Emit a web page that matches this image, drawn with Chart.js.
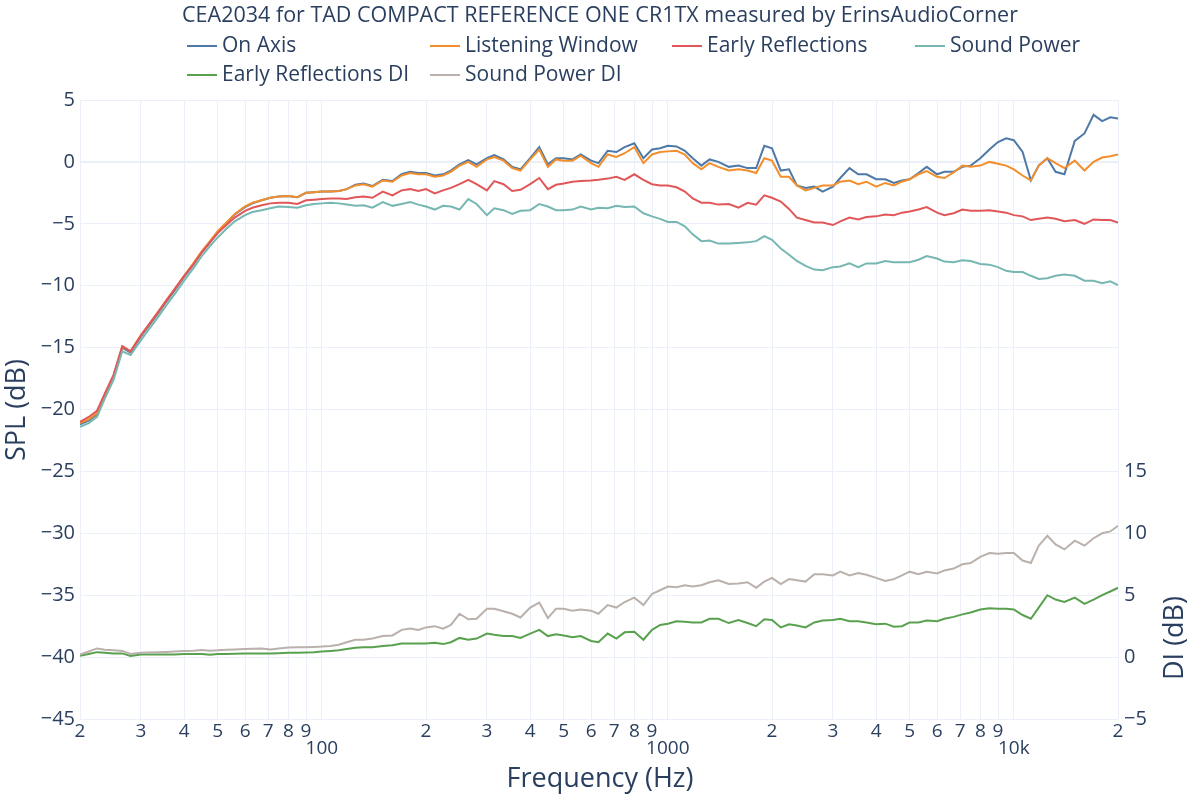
<!DOCTYPE html>
<html lang="en">
<head>
<meta charset="UTF-8">
<title>CEA2034 - TAD Compact Reference One CR1TX</title>
<script src="https://cdn.jsdelivr.net/npm/chart.js"></script>
<style>
    body {
        margin: 0;
        background: #ffffff;
    }
    .chart-box {
        position: relative;
        width: 1200px;
        height: 800px;
    }
</style>
</head>
<body>

<div class="chart-box">
    <canvas id="spinChart" width="1200" height="800"></canvas>
</div>

<script>
    const chartTitle = 'CEA2034 for TAD COMPACT REFERENCE ONE CR1TX measured by ErinsAudioCorner';
    const seriesNames = ['On Axis', 'Listening Window', 'Early Reflections', 'Sound Power', 'Early Reflections DI', 'Sound Power DI'];

    // frequency points (Hz)
    const freqs = [
        20, 21.2, 22.4, 23.6, 25, 26.5, 28, 30, 31.5, 33.5, 35.5, 37.5, 40, 42.5, 45, 47.5, 50, 53, 56, 60, 63, 67, 71, 75, 80, 85, 90, 95,
        100, 106, 112, 118, 125, 132, 140, 150, 160, 170, 180, 190, 200, 212, 224, 236, 250, 265, 280, 300, 315, 335, 355, 375, 400, 425, 450, 475, 500, 530, 560, 600, 630, 670, 710, 750, 800, 850, 900, 950,
        1000, 1060, 1120, 1180, 1250, 1320, 1400, 1500, 1600, 1700, 1800, 1900, 2000, 2120, 2240, 2360, 2500, 2650, 2800, 3000, 3150, 3350, 3550, 3750, 4000, 4250, 4500, 4750, 5000, 5300, 5600, 6000, 6300, 6700, 7100, 7500, 8000, 8500, 9000, 9500,
        10000, 10600, 11200, 11800, 12500, 13200, 14000, 15000, 16000, 17000, 18000, 19000, 20000
    ];

    // SPL curves (dB)
    const onAxis = [
        -21.2, -20.9, -20.4, -18.9, -17.4, -15.0, -15.4, -14.1, -13.3, -12.3, -11.3, -10.4, -9.3, -8.3, -7.3, -6.5, -5.7, -4.95, -4.25, -3.65, -3.35, -3.1, -2.9, -2.8, -2.75, -2.85, -2.5, -2.45,
        -2.4, -2.4, -2.35, -2.2, -1.85, -1.75, -1.95, -1.45, -1.55, -1.0, -0.8, -0.9, -0.9, -1.1, -1.0, -0.7, -0.2, 0.15, -0.2, 0.3, 0.55, 0.2, -0.4, -0.6, 0.3, 1.2, -0.2, 0.3, 0.3, 0.2, 0.6, 0.1, -0.1, 0.9, 0.8, 1.2, 1.5, 0.3, 1.0, 1.1,
        1.3, 1.25, 0.9, 0.3, -0.3, 0.2, 0.0, -0.4, -0.3, -0.5, -0.5, 1.3, 1.1, -0.7, -0.6, -1.9, -2.1, -2.0, -2.4, -2.0, -1.3, -0.5, -1.0, -1.0, -1.4, -1.4, -1.7, -1.5, -1.4, -0.9, -0.4, -1.0, -0.8, -0.8, -0.4, -0.3, 0.3, 1.0, 1.6, 1.9,
        1.75, 0.8, -1.5, -0.3, 0.3, -0.8, -1.0, 1.7, 2.3, 3.8, 3.3, 3.6, 3.5
    ];
    const listeningWindow = [
        -21.1, -20.8, -20.3, -18.8, -17.3, -14.9, -15.3, -14.0, -13.2, -12.2, -11.2, -10.3, -9.2, -8.2, -7.2, -6.4, -5.6, -4.9, -4.2, -3.6, -3.3, -3.1, -2.9, -2.8, -2.75, -2.85, -2.5, -2.45,
        -2.4, -2.4, -2.35, -2.2, -1.9, -1.8, -2.0, -1.5, -1.6, -1.1, -0.9, -1.0, -1.0, -1.2, -1.1, -0.8, -0.3, 0.0, -0.4, 0.2, 0.4, 0.1, -0.5, -0.7, 0.2, 1.0, -0.4, 0.2, 0.1, 0.1, 0.5, -0.1, -0.4, 0.6, 0.4, 0.7, 1.2, -0.1, 0.6, 0.8,
        0.85, 0.9, 0.6, -0.1, -0.6, -0.1, -0.4, -0.7, -0.6, -0.7, -0.9, 0.3, 0.1, -1.2, -1.2, -1.9, -2.3, -2.1, -1.9, -1.9, -1.6, -1.5, -1.8, -1.6, -2.0, -1.7, -1.9, -1.6, -1.4, -1.0, -0.75, -1.2, -1.3, -0.85, -0.3, -0.4, -0.3, 0.0, -0.15, -0.3,
        -0.6, -1.1, -1.5, -0.3, 0.3, -0.1, -0.5, 0.1, -0.7, 0.0, 0.35, 0.45, 0.6
    ];
    const earlyReflections = [
        -21.0, -20.6, -20.1, -18.7, -17.2, -14.9, -15.3, -14.0, -13.2, -12.2, -11.2, -10.3, -9.2, -8.3, -7.3, -6.5, -5.75, -5.1, -4.5, -3.95, -3.7, -3.5, -3.35, -3.3, -3.3, -3.4, -3.1, -3.05,
        -3.0, -2.95, -2.95, -3.0, -2.85, -2.8, -2.9, -2.4, -2.7, -2.3, -2.2, -2.35, -2.2, -2.55, -2.3, -2.1, -1.8, -1.45, -1.8, -2.3, -1.55, -1.8, -2.35, -2.25, -1.8, -1.3, -2.2, -1.85, -1.75, -1.6, -1.55, -1.5, -1.45, -1.35, -1.2, -1.45, -1.0, -1.45, -1.8, -1.9,
        -1.9, -2.05, -2.4, -2.95, -3.3, -3.3, -3.45, -3.4, -3.7, -3.3, -3.45, -2.7, -2.9, -3.2, -3.8, -4.5, -4.7, -4.9, -4.9, -5.1, -4.8, -4.5, -4.65, -4.45, -4.4, -4.25, -4.3, -4.1, -4.0, -3.85, -3.65, -4.1, -4.3, -4.15, -3.85, -3.95, -3.95, -3.9, -4.0, -4.1,
        -4.3, -4.4, -4.7, -4.6, -4.5, -4.6, -4.8, -4.7, -5.0, -4.65, -4.7, -4.7, -4.9
    ];
    const soundPower = [
        -21.4, -21.1, -20.6, -19.1, -17.6, -15.3, -15.6, -14.4, -13.6, -12.6, -11.6, -10.7, -9.6, -8.6, -7.6, -6.8, -6.1, -5.4, -4.8, -4.3, -4.05, -3.9, -3.75, -3.6, -3.65, -3.7, -3.5, -3.4,
        -3.35, -3.3, -3.35, -3.45, -3.55, -3.5, -3.7, -3.25, -3.55, -3.4, -3.25, -3.45, -3.6, -3.85, -3.55, -3.6, -3.85, -3.0, -3.4, -4.3, -3.75, -3.9, -4.2, -3.95, -3.9, -3.4, -3.6, -3.9, -3.9, -3.85, -3.6, -3.85, -3.7, -3.75, -3.55, -3.65, -3.6, -4.15, -4.4, -4.6,
        -4.85, -4.85, -5.2, -5.85, -6.4, -6.35, -6.6, -6.6, -6.55, -6.5, -6.4, -6.0, -6.3, -7.0, -7.5, -8.0, -8.4, -8.7, -8.75, -8.5, -8.45, -8.2, -8.5, -8.2, -8.2, -8.0, -8.1, -8.1, -8.1, -7.9, -7.6, -7.8, -8.05, -8.1, -7.95, -8.0, -8.25, -8.3, -8.5, -8.8,
        -8.9, -8.9, -9.2, -9.45, -9.4, -9.2, -9.1, -9.2, -9.6, -9.6, -9.8, -9.65, -9.95
    ];

    // directivity index curves (dB, right axis)
    const earlyReflectionsDI = [
        0.1, 0.25, 0.4, 0.35, 0.3, 0.3, 0.1, 0.2, 0.2, 0.2, 0.2, 0.22, 0.25, 0.25, 0.25, 0.2, 0.25, 0.25, 0.28, 0.3, 0.3, 0.3, 0.3, 0.32, 0.35, 0.35, 0.38, 0.4,
        0.45, 0.5, 0.55, 0.65, 0.75, 0.8, 0.8, 0.9, 0.95, 1.1, 1.1, 1.1, 1.1, 1.15, 1.05, 1.2, 1.55, 1.4, 1.5, 1.9, 1.8, 1.7, 1.7, 1.55, 1.9, 2.2, 1.7, 1.85, 1.75, 1.6, 1.7, 1.3, 1.2, 1.9, 1.5, 2.0, 2.05, 1.4, 2.2, 2.6,
        2.7, 2.9, 2.85, 2.8, 2.8, 3.1, 3.1, 2.75, 3.0, 2.75, 2.5, 3.05, 3.0, 2.4, 2.65, 2.55, 2.4, 2.8, 2.95, 3.0, 3.1, 2.9, 2.9, 2.8, 2.65, 2.7, 2.45, 2.5, 2.8, 2.8, 2.95, 2.9, 3.1, 3.25, 3.45, 3.6, 3.85, 3.95, 3.9, 3.9,
        3.85, 3.4, 3.1, 4.0, 5.0, 4.65, 4.45, 4.8, 4.3, 4.65, 5.0, 5.3, 5.6
    ];
    const soundPowerDI = [
        0.2, 0.45, 0.7, 0.6, 0.55, 0.5, 0.25, 0.35, 0.38, 0.4, 0.42, 0.45, 0.5, 0.52, 0.58, 0.52, 0.55, 0.6, 0.62, 0.65, 0.68, 0.7, 0.62, 0.7, 0.78, 0.8, 0.8, 0.82,
        0.85, 0.9, 1.0, 1.2, 1.4, 1.4, 1.5, 1.7, 1.75, 2.2, 2.3, 2.2, 2.4, 2.5, 2.3, 2.6, 3.5, 3.05, 3.1, 3.9, 3.9, 3.7, 3.5, 3.2, 4.0, 4.4, 3.15, 3.9, 3.9, 3.75, 3.85, 3.75, 3.5, 4.2, 4.0, 4.45, 4.8, 4.2, 5.1, 5.4,
        5.7, 5.65, 5.8, 5.7, 5.8, 6.05, 6.2, 5.9, 5.95, 6.05, 5.6, 6.1, 6.4, 5.9, 6.3, 6.2, 6.1, 6.7, 6.7, 6.6, 6.9, 6.6, 6.8, 6.65, 6.4, 6.15, 6.3, 6.6, 6.9, 6.7, 6.9, 6.75, 7.0, 7.15, 7.5, 7.6, 8.1, 8.4, 8.35, 8.4,
        8.4, 7.8, 7.6, 9.0, 9.8, 9.1, 8.7, 9.4, 9.0, 9.6, 10.0, 10.15, 10.6
    ];

    // axis ticks
    const freqTicks = [20, 30, 40, 50, 60, 70, 80, 90, 100, 200, 300, 400, 500, 600, 700, 800, 900,
        1000, 2000, 3000, 4000, 5000, 6000, 7000, 8000, 9000, 10000, 20000];
    const decadeLabels = { 100: '100', 1000: '1000', 10000: '10k' };

    const textColor = '#2a3f5f';
    const gridColor = '#ebf0f8';
    const fontFamily = '"Open Sans", verdana, arial, sans-serif';
    const lineColors = ['#4e79a7', '#f28e2b', '#e15759', '#76b7b2', '#59a14f', '#bab0ac'];

    function toPoints(values) {
        return freqs.map((f, i) => ({ x: f, y: values[i] }));
    }

    function makeDataset(index, values, axisId) {
        return {
            label: seriesNames[index],
            data: toPoints(values),
            yAxisID: axisId,
            borderColor: lineColors[index],
            backgroundColor: lineColors[index],
            borderWidth: 2,
            pointRadius: 0,
            tension: 0,
            fill: false,
            order: 6 - index
        };
    }

    // plotly writes negatives with a real minus sign
    function dbLabel(value) {
        return value < 0 ? '\u2212' + Math.abs(value) : String(value);
    }

    // title, legend and axis titles drawn plotly-style
    const spinDecor = {
        id: 'spinDecor',
        afterDraw(chart) {
            const ctx = chart.ctx;
            ctx.save();
            ctx.fillStyle = textColor;
            ctx.textBaseline = 'middle';

            ctx.textAlign = 'center';
            ctx.font = '21.5px ' + fontFamily;
            ctx.fillText(chartTitle, 600, 16);

            const cols = [187, 430, 672, 915];
            const rows = [46, 75];
            ctx.textAlign = 'left';
            ctx.font = '21px ' + fontFamily;
            seriesNames.forEach((name, i) => {
                const x = cols[i % 4];
                const y = rows[Math.floor(i / 4)];
                ctx.strokeStyle = lineColors[i];
                ctx.lineWidth = 2;
                ctx.beginPath();
                ctx.moveTo(x, y);
                ctx.lineTo(x + 30, y);
                ctx.stroke();
                ctx.fillText(name, x + 35, y);
            });

            ctx.textAlign = 'center';
            ctx.font = '27px ' + fontFamily;
            ctx.fillText('Frequency (Hz)', 600, 779);

            ctx.save();
            ctx.translate(17, 410);
            ctx.rotate(-Math.PI / 2);
            ctx.fillText('SPL (dB)', 0, 0);
            ctx.restore();

            ctx.save();
            ctx.translate(1175, 638);
            ctx.rotate(-Math.PI / 2);
            ctx.fillText('DI (dB)', 0, 0);
            ctx.restore();

            ctx.restore();
        }
    };

    const tickFont = { family: fontFamily, size: 20 };

    new Chart(document.getElementById('spinChart').getContext('2d'), {
        type: 'line',
        data: {
            datasets: [
                makeDataset(0, onAxis, 'y'),
                makeDataset(1, listeningWindow, 'y'),
                makeDataset(2, earlyReflections, 'y'),
                makeDataset(3, soundPower, 'y'),
                makeDataset(4, earlyReflectionsDI, 'y2'),
                makeDataset(5, soundPowerDI, 'y2')
            ]
        },
        options: {
            responsive: false,
            animation: false,
            layout: { padding: { top: 100, left: 0, right: 0, bottom: 0 } },
            plugins: {
                legend: { display: false },
                title: { display: false },
                tooltip: { enabled: false }
            },
            scales: {
                x: {
                    type: 'logarithmic',
                    min: 20,
                    max: 20000,
                    border: { display: false },
                    grid: { color: gridColor, lineWidth: 1, drawTicks: false },
                    afterBuildTicks: scale => {
                        scale.ticks = freqTicks.map(v => ({ value: v }));
                    },
                    afterFit: scale => { scale.height = 81; },
                    ticks: {
                        color: textColor,
                        font: { family: fontFamily, size: 19, lineHeight: 0.85 },
                        padding: 5,
                        maxRotation: 0,
                        autoSkip: false,
                        callback: value => {
                            if (decadeLabels[value]) return ['', decadeLabels[value]];
                            return String(value).charAt(0);
                        }
                    }
                },
                y: {
                    position: 'left',
                    min: -45,
                    max: 5,
                    border: { display: false },
                    grid: {
                        color: gridColor,
                        drawTicks: false,
                        lineWidth: c => (c.tick && c.tick.value === 0) ? 2 : 1
                    },
                    afterFit: scale => { scale.width = 80; },
                    ticks: { stepSize: 5, color: textColor, font: tickFont, padding: 5, callback: dbLabel }
                },
                y2: {
                    position: 'right',
                    min: -5,
                    max: 45,
                    border: { display: false },
                    grid: { display: false, drawTicks: false },
                    afterBuildTicks: scale => {
                        scale.ticks = scale.ticks.filter(t => t.value <= 15);
                    },
                    afterFit: scale => { scale.width = 82; },
                    ticks: { stepSize: 5, color: textColor, font: tickFont, padding: 6, callback: dbLabel }
                }
            }
        },
        plugins: [spinDecor]
    });
</script>

</body>
</html>
